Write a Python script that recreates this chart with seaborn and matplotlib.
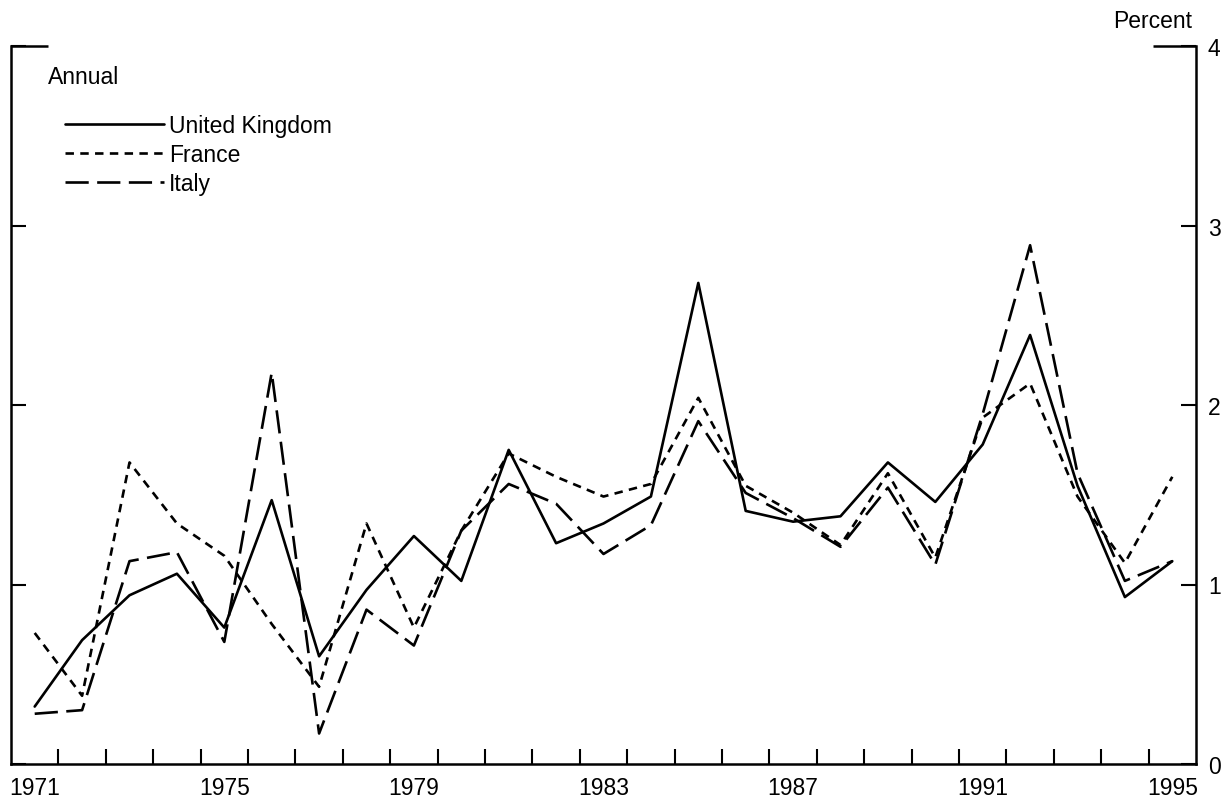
"""Annual series for UK, France and Italy, redrawn in the printed-report style."""

import matplotlib

matplotlib.use("Agg")
import matplotlib.pyplot as plt
import numpy as np
import pandas as pd
import seaborn as sns

sns.set_theme(style="ticks")
plt.rcParams["font.family"] = ["Liberation Sans", "DejaVu Sans"]
plt.rcParams.update({"text.color": "black", "xtick.color": "black", "ytick.color": "black",
                     "axes.labelcolor": "black", "axes.edgecolor": "black"})

years = list(range(1971, 1996))
countries = ["United Kingdom", "France", "Italy"]
uk = [0.32, 0.69, 0.94, 1.06, 0.76, 1.47, 0.60, 0.97, 1.27, 1.02, 1.75, 1.23, 1.34,
      1.49, 2.68, 1.41, 1.35, 1.38, 1.68, 1.46, 1.78, 2.39, 1.55, 0.93, 1.13]
france = [0.73, 0.38, 1.68, 1.34, 1.16, 0.78, 0.43, 1.34, 0.76, 1.30, 1.73, 1.60, 1.49,
          1.56, 2.04, 1.55, 1.40, 1.22, 1.62, 1.15, 1.93, 2.12, 1.49, 1.12, 1.60]
italy = [0.28, 0.30, 1.13, 1.18, 0.68, 2.18, 0.17, 0.86, 0.66, 1.30, 1.56, 1.45, 1.17,
         1.33, 1.91, 1.51, 1.37, 1.21, 1.54, 1.11, 1.95, 2.89, 1.62, 1.02, 1.13]
label_years = [1971, 1975, 1979, 1983, 1987, 1991, 1995]
yticks = [0, 1, 2, 3, 4]

df = pd.DataFrame({
    "year": years * 3,
    "value": uk + france + italy,
    "country": np.repeat(countries, len(years)),
})
# annual values sit in the middle of each year slot
df["xpos"] = df["year"] + 0.5

FS = 16.5
fig = plt.figure(figsize=(12.31, 8.03), dpi=100)
ax = fig.add_axes([11 / 1231, 38 / 803, 1185 / 1231, 718 / 803])

sns.lineplot(
    data=df, x="xpos", y="value", hue="country", style="country",
    hue_order=countries, style_order=countries,
    palette={c: "black" for c in countries},
    dashes={"United Kingdom": "", "France": (3.2, 2.4), "Italy": (8.8, 3.2)},
    linewidth=1.9, errorbar=None, ax=ax,
)

ax.set_xlim(1971, 1996)
ax.set_ylim(0, 4)
ax.set_xlabel("")
ax.set_ylabel("")

ax.spines["top"].set_visible(False)
for side in ("left", "right", "bottom"):
    ax.spines[side].set_linewidth(1.8)
    ax.spines[side].set_color("black")

# x: labels centred on the year, ticks on the year boundaries
ax.set_xticks([y + 0.5 for y in label_years], [str(y) for y in label_years])
ax.set_xticks(years[1:], minor=True)
ax.tick_params(axis="x", which="major", length=0, pad=9, labelsize=FS, labelcolor="black")
ax.tick_params(axis="x", which="minor", direction="in", length=10.5, width=1.5, color="black")

ax.set_yticks(yticks)
ax.tick_params(axis="y", which="major", direction="in", length=10.5, width=1.5, color="black",
               left=True, right=True, labelleft=False, labelright=True, labelsize=FS,
               labelcolor="black", pad=8.5)

# long corner ticks at the top value on both sides
ax.plot([0, 0.031], [4, 4], transform=ax.get_yaxis_transform(), color="black",
        lw=1.8, clip_on=False, solid_capstyle="butt")
ax.plot([0.964, 1], [4, 4], transform=ax.get_yaxis_transform(), color="black",
        lw=1.8, clip_on=False, solid_capstyle="butt")

ax.text(0.031, 0.957, "Annual", transform=ax.transAxes, ha="left", va="center",
        fontsize=FS, color="black")
ax.text(0.9966, 1.035, "Percent", transform=ax.transAxes, ha="right", va="center",
        fontsize=FS, color="black")

handles, labels = ax.get_legend_handles_labels()
ax.legend(handles, labels, frameon=False, loc="upper left", bbox_to_anchor=(0.0456, 0.905),
          handlelength=4.3, handletextpad=0.25, labelspacing=0.25, borderaxespad=0,
          borderpad=0, fontsize=FS, labelcolor="black")

fig.savefig("out.png", dpi=100)
plt.close(fig)
